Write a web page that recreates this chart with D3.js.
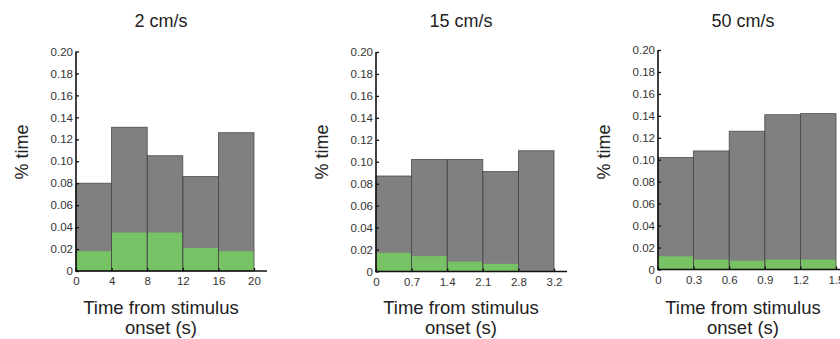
<!DOCTYPE html>
<html>
<head>
<meta charset="utf-8">
<script src="https://cdnjs.cloudflare.com/ajax/libs/d3/7.8.5/d3.min.js"></script>
<style>
  body { margin: 0; background: #fff; }
  svg { display: block; font-family: "Liberation Sans", Arial, sans-serif; }
</style>
</head>
<body>
<div id="chart"></div>
<script>
// values
var panelTitles = ["2 cm/s", "15 cm/s", "50 cm/s"];
var binLabels = [
  ["0", "4", "8", "12", "16", "20"],
  ["0", "0.7", "1.4", "2.1", "2.8", "3.2"],
  ["0", "0.3", "0.6", "0.9", "1.2", "1.5"]
];
var totalTime = [
  [0.080, 0.131, 0.105, 0.086, 0.126],
  [0.087, 0.102, 0.102, 0.091, 0.110],
  [0.102, 0.108, 0.126, 0.141, 0.142]
];
var greenTime = [
  [0.018, 0.035, 0.035, 0.021, 0.018],
  [0.017, 0.014, 0.009, 0.007, 0.000],
  [0.012, 0.009, 0.008, 0.009, 0.009]
];
var yTicks = [0, 0.02, 0.04, 0.06, 0.08, 0.10, 0.12, 0.14, 0.16, 0.18, 0.20];

var W = 840, H = 339;
var svg = d3.select("#chart").append("svg").attr("width", W).attr("height", H);

// panel placement
var panelX = [76, 376, 658];
var panelBottom = [271, 271.5, 269.5];
var plotW = 178, plotH = 219.5;

panelTitles.forEach(function (title, p) {
  var g = svg.append("g").attr("transform", "translate(" + panelX[p] + "," + panelBottom[p] + ")");

  var x = d3.scaleLinear().domain([0, 5]).range([0, plotW]);
  var y = d3.scaleLinear().domain([0, 0.2]).range([0, -plotH]);

  var bins = totalTime[p].map(function (v, i) { return { i: i, total: v, green: greenTime[p][i] }; });

  // gray bars
  g.selectAll("rect.total").data(bins).enter().append("rect")
    .attr("class", "total")
    .attr("x", function (d) { return x(d.i); })
    .attr("width", function (d) { return x(d.i + 1) - x(d.i); })
    .attr("y", function (d) { return y(d.total); })
    .attr("height", function (d) { return -y(d.total); })
    .style("fill", "#808080");

  // green part
  g.selectAll("rect.green").data(bins).enter().append("rect")
    .attr("class", "green")
    .attr("x", function (d) { return x(d.i); })
    .attr("width", function (d) { return x(d.i + 1) - x(d.i); })
    .attr("y", function (d) { return y(d.green); })
    .attr("height", function (d) { return -y(d.green); })
    .style("fill", "#77c265");

  // outlines on top
  g.selectAll("rect.edge").data(bins).enter().append("rect")
    .attr("class", "edge")
    .attr("x", function (d) { return x(d.i); })
    .attr("width", function (d) { return x(d.i + 1) - x(d.i); })
    .attr("y", function (d) { return y(d.total); })
    .attr("height", function (d) { return -y(d.total); })
    .style("fill", "none")
    .style("stroke", "#4a4a4a")
    .style("stroke-width", 0.8);

  // y axis, ticks pointing in
  var yAxis = d3.axisLeft(y).tickValues(yTicks).tickSize(-3).tickPadding(3)
    .tickFormat(function (d) { return d === 0 ? "0" : d.toFixed(2); });
  var ya = g.append("g").call(yAxis);
  ya.select(".domain").remove();
  ya.selectAll("text").style("font-size", "11.5px").style("fill", "#333").style("font-family", "inherit");
  ya.selectAll("line").style("stroke", "#111").style("stroke-width", 1.3);

  // x axis, labels at bin edges
  var xAxis = d3.axisBottom(x).tickValues(d3.range(6)).tickSize(-3).tickPadding(6)
    .tickFormat(function (d) { return binLabels[p][d]; });
  var xa = g.append("g").call(xAxis);
  xa.select(".domain").remove();
  xa.selectAll("text").style("font-size", "11.5px").style("fill", "#333").style("font-family", "inherit");
  xa.selectAll("line").style("stroke", "#111").style("stroke-width", 1.3);

  g.append("line").attr("x1", 0).attr("x2", 0).attr("y1", 0.5).attr("y2", y(0.2))
    .style("stroke", "#111").style("stroke-width", 1.6);
  g.append("line").attr("x1", -0.8).attr("x2", plotW + 13).attr("y1", 0).attr("y2", 0)
    .style("stroke", "#111").style("stroke-width", 1.6);

  // titles
  svg.append("text")
    .attr("x", panelX[p] + 85).attr("y", 27)
    .attr("text-anchor", "middle")
    .style("font-size", "18px").style("fill", "#222")
    .text(title);

  svg.append("text")
    .attr("transform", "translate(" + (panelX[p] - 48) + ",152) rotate(-90)")
    .attr("text-anchor", "middle")
    .style("font-size", "18px").style("fill", "#222")
    .text("% time");

  svg.selectAll(null).data(["Time from stimulus", "onset (s)"]).enter().append("text")
    .attr("x", panelX[p] + 85)
    .attr("y", function (d, i) { return 314 + i * 19.5; })
    .attr("text-anchor", "middle")
    .style("font-size", "18.5px").style("fill", "#222")
    .text(function (d) { return d; });
});
</script>
</body>
</html>
